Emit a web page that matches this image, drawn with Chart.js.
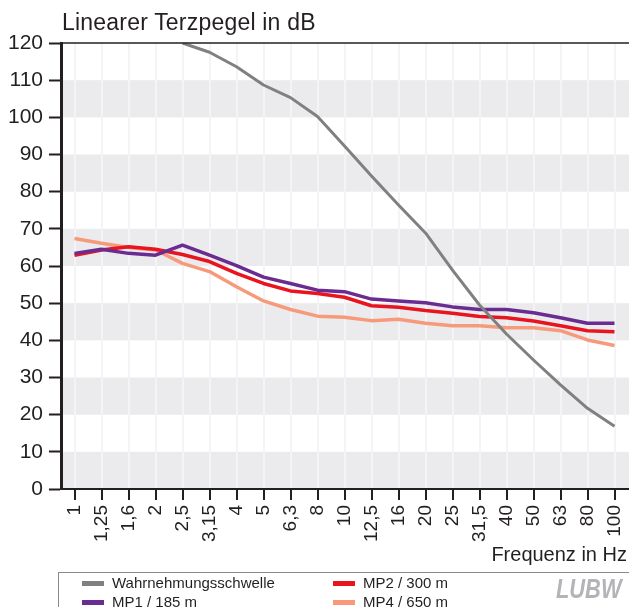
<!DOCTYPE html>
<html>
<head>
<meta charset="utf-8">
<script src="https://cdn.jsdelivr.net/npm/chart.js@4"></script>
<style>
    body { margin: 0; background: #fff; font-family: "Liberation Sans", Arial, sans-serif; color: #231f20; }
    #wrap { position: relative; width: 629px; height: 607px; overflow: hidden; }
    #chart { position: absolute; left: 0; top: 0; }
    .title { position: absolute; left: 62px; top: 9px; font-size: 23px; white-space: nowrap; letter-spacing: 0.2px; }
    .xtitle { position: absolute; right: 2px; top: 543px; font-size: 20px; white-space: nowrap; }
    .legend { position: absolute; left: 58px; top: 572px; width: 600px; height: 50px; border: 1px solid #8a8a8a; }
    .item { position: absolute; font-size: 15px; white-space: nowrap; line-height: 18px; }
    .item span { display: inline-block; width: 22px; height: 5px; margin-right: 8px; vertical-align: middle; position: relative; top: -1px; }
    .logo { position: absolute; left: 497px; top: 0px; font-weight: bold; font-style: italic; font-size: 28px; color: #b4b4b8; transform: scaleX(0.78); transform-origin: left top; }
</style>
</head>
<body>
<div id="wrap">
    <canvas id="chart" width="629" height="607"></canvas>
    <div class="title">Linearer Terzpegel in dB</div>
    <div class="xtitle">Frequenz in Hz</div>
    <div class="legend">
        <div class="item" style="left:23px;top:1px"><span style="background:#808080"></span>Wahrnehmungsschwelle</div>
        <div class="item" style="left:274px;top:1px"><span style="background:#e8141f"></span>MP2 / 300 m</div>
        <div class="item" style="left:23px;top:20px"><span style="background:#6a2c91"></span>MP1 / 185 m</div>
        <div class="item" style="left:274px;top:20px"><span style="background:#f79a7c"></span>MP4 / 650 m</div>
        <div class="logo">LUBW</div>
    </div>
</div>
<script>
// Terzband-Mittenfrequenzen in Hz
const frequencies = ['1', '1,25', '1,6', '2', '2,5', '3,15', '4', '5', '6,3', '8', '10',
    '12,5', '16', '20', '25', '31,5', '40', '50', '63', '80', '100'];

// Pegel in dB
const threshold = [null, null, null, null, 120, 117.5, 113.6, 108.7, 105.3, 100.2, 92.3,
    84.2, 76.4, 68.9, 58.9, 49.5, 41.7, 34.7, 28, 21.7, 16.9];
const mp1 = [63.4, 64.5, 63.4, 62.9, 65.6, 62.9, 60.1, 57, 55.3, 53.5, 53.1,
    51.1, 50.6, 50.1, 49.0, 48.3, 48.3, 47.4, 46.1, 44.6, 44.6];
const mp2 = [62.9, 64.3, 65.2, 64.5, 63.1, 61.2, 58.0, 55.3, 53.3, 52.6, 51.6,
    49.3, 48.9, 48.0, 47.3, 46.4, 46.1, 45.2, 43.9, 42.6, 42.3];
const mp4 = [67.4, 66.1, 65.0, 64.3, 60.7, 58.5, 54.4, 50.6, 48.3, 46.5, 46.2,
    45.3, 45.7, 44.6, 43.9, 43.9, 43.4, 43.4, 42.6, 40.1, 38.6];

const yTicks = [0, 10, 20, 30, 40, 50, 60, 70, 80, 90, 100, 110, 120];
const bandStarts = [0, 20, 40, 60, 80, 100];

// grey bands behind grid + black line on top
const bandsPlugin = {
    id: 'bands',
    beforeDraw(chart) {
        const ctx = chart.ctx;
        const area = chart.chartArea;
        const y = chart.scales.y;
        ctx.save();
        ctx.fillStyle = '#ebebee';
        bandStarts.forEach(function(v) {
            const top = y.getPixelForValue(v + 10);
            const bottom = y.getPixelForValue(v);
            ctx.fillRect(area.left, top, chart.width - area.left, bottom - top);
        });
        ctx.restore();
    },
    afterDraw(chart) {
        const ctx = chart.ctx;
        const area = chart.chartArea;
        ctx.save();
        ctx.strokeStyle = '#231f20';
        ctx.lineWidth = 1.5;
        ctx.beginPath();
        ctx.moveTo(area.left, area.top);
        ctx.lineTo(chart.width, area.top);
        ctx.stroke();
        ctx.restore();
    }
};

const ctx = document.getElementById('chart').getContext('2d');
new Chart(ctx, {
    type: 'line',
    data: {
        labels: frequencies,
        datasets: [
            { label: 'Wahrnehmungsschwelle', data: threshold, borderColor: '#808080', borderWidth: 3 },
            { label: 'MP1 / 185 m', data: mp1, borderColor: '#6a2c91', borderWidth: 3.5 },
            { label: 'MP2 / 300 m', data: mp2, borderColor: '#e8141f', borderWidth: 3.5 },
            { label: 'MP4 / 650 m', data: mp4, borderColor: '#f79a7c', borderWidth: 3.5 }
        ]
    },
    options: {
        responsive: false,
        animation: false,
        layout: { padding: { top: 43, right: 1, left: 0, bottom: 0 } },
        elements: { point: { radius: 0 }, line: { tension: 0, borderJoinStyle: 'round' } },
        plugins: { legend: { display: false }, tooltip: { enabled: false } },
        scales: {
            x: {
                offset: true,
                afterFit: function(s) { s.height = 118; s.paddingLeft = 0; s.paddingRight = 0; },
                grid: { offset: false, color: '#f4f4f6', lineWidth: 2, tickColor: '#231f20', tickLength: 11, tickWidth: 2 },
                border: { color: '#231f20', width: 2 },
                ticks: {
                    autoSkip: false, minRotation: 90, maxRotation: 90, padding: 5,
                    color: '#231f20', font: { family: '"Liberation Sans", Arial', size: 19 }
                }
            },
            y: {
                min: 0,
                max: 120,
                afterFit: function(s) { s.width = 61; },
                afterBuildTicks: function(s) { s.ticks = yTicks.map(v => ({ value: v })); },
                grid: { drawOnChartArea: false, tickColor: '#231f20', tickLength: 12, tickWidth: 2 },
                border: { color: '#231f20', width: 3 },
                ticks: { padding: 6, color: '#231f20', font: { family: '"Liberation Sans", Arial', size: 21 } }
            }
        }
    },
    plugins: [bandsPlugin]
});
</script>
</body>
</html>
